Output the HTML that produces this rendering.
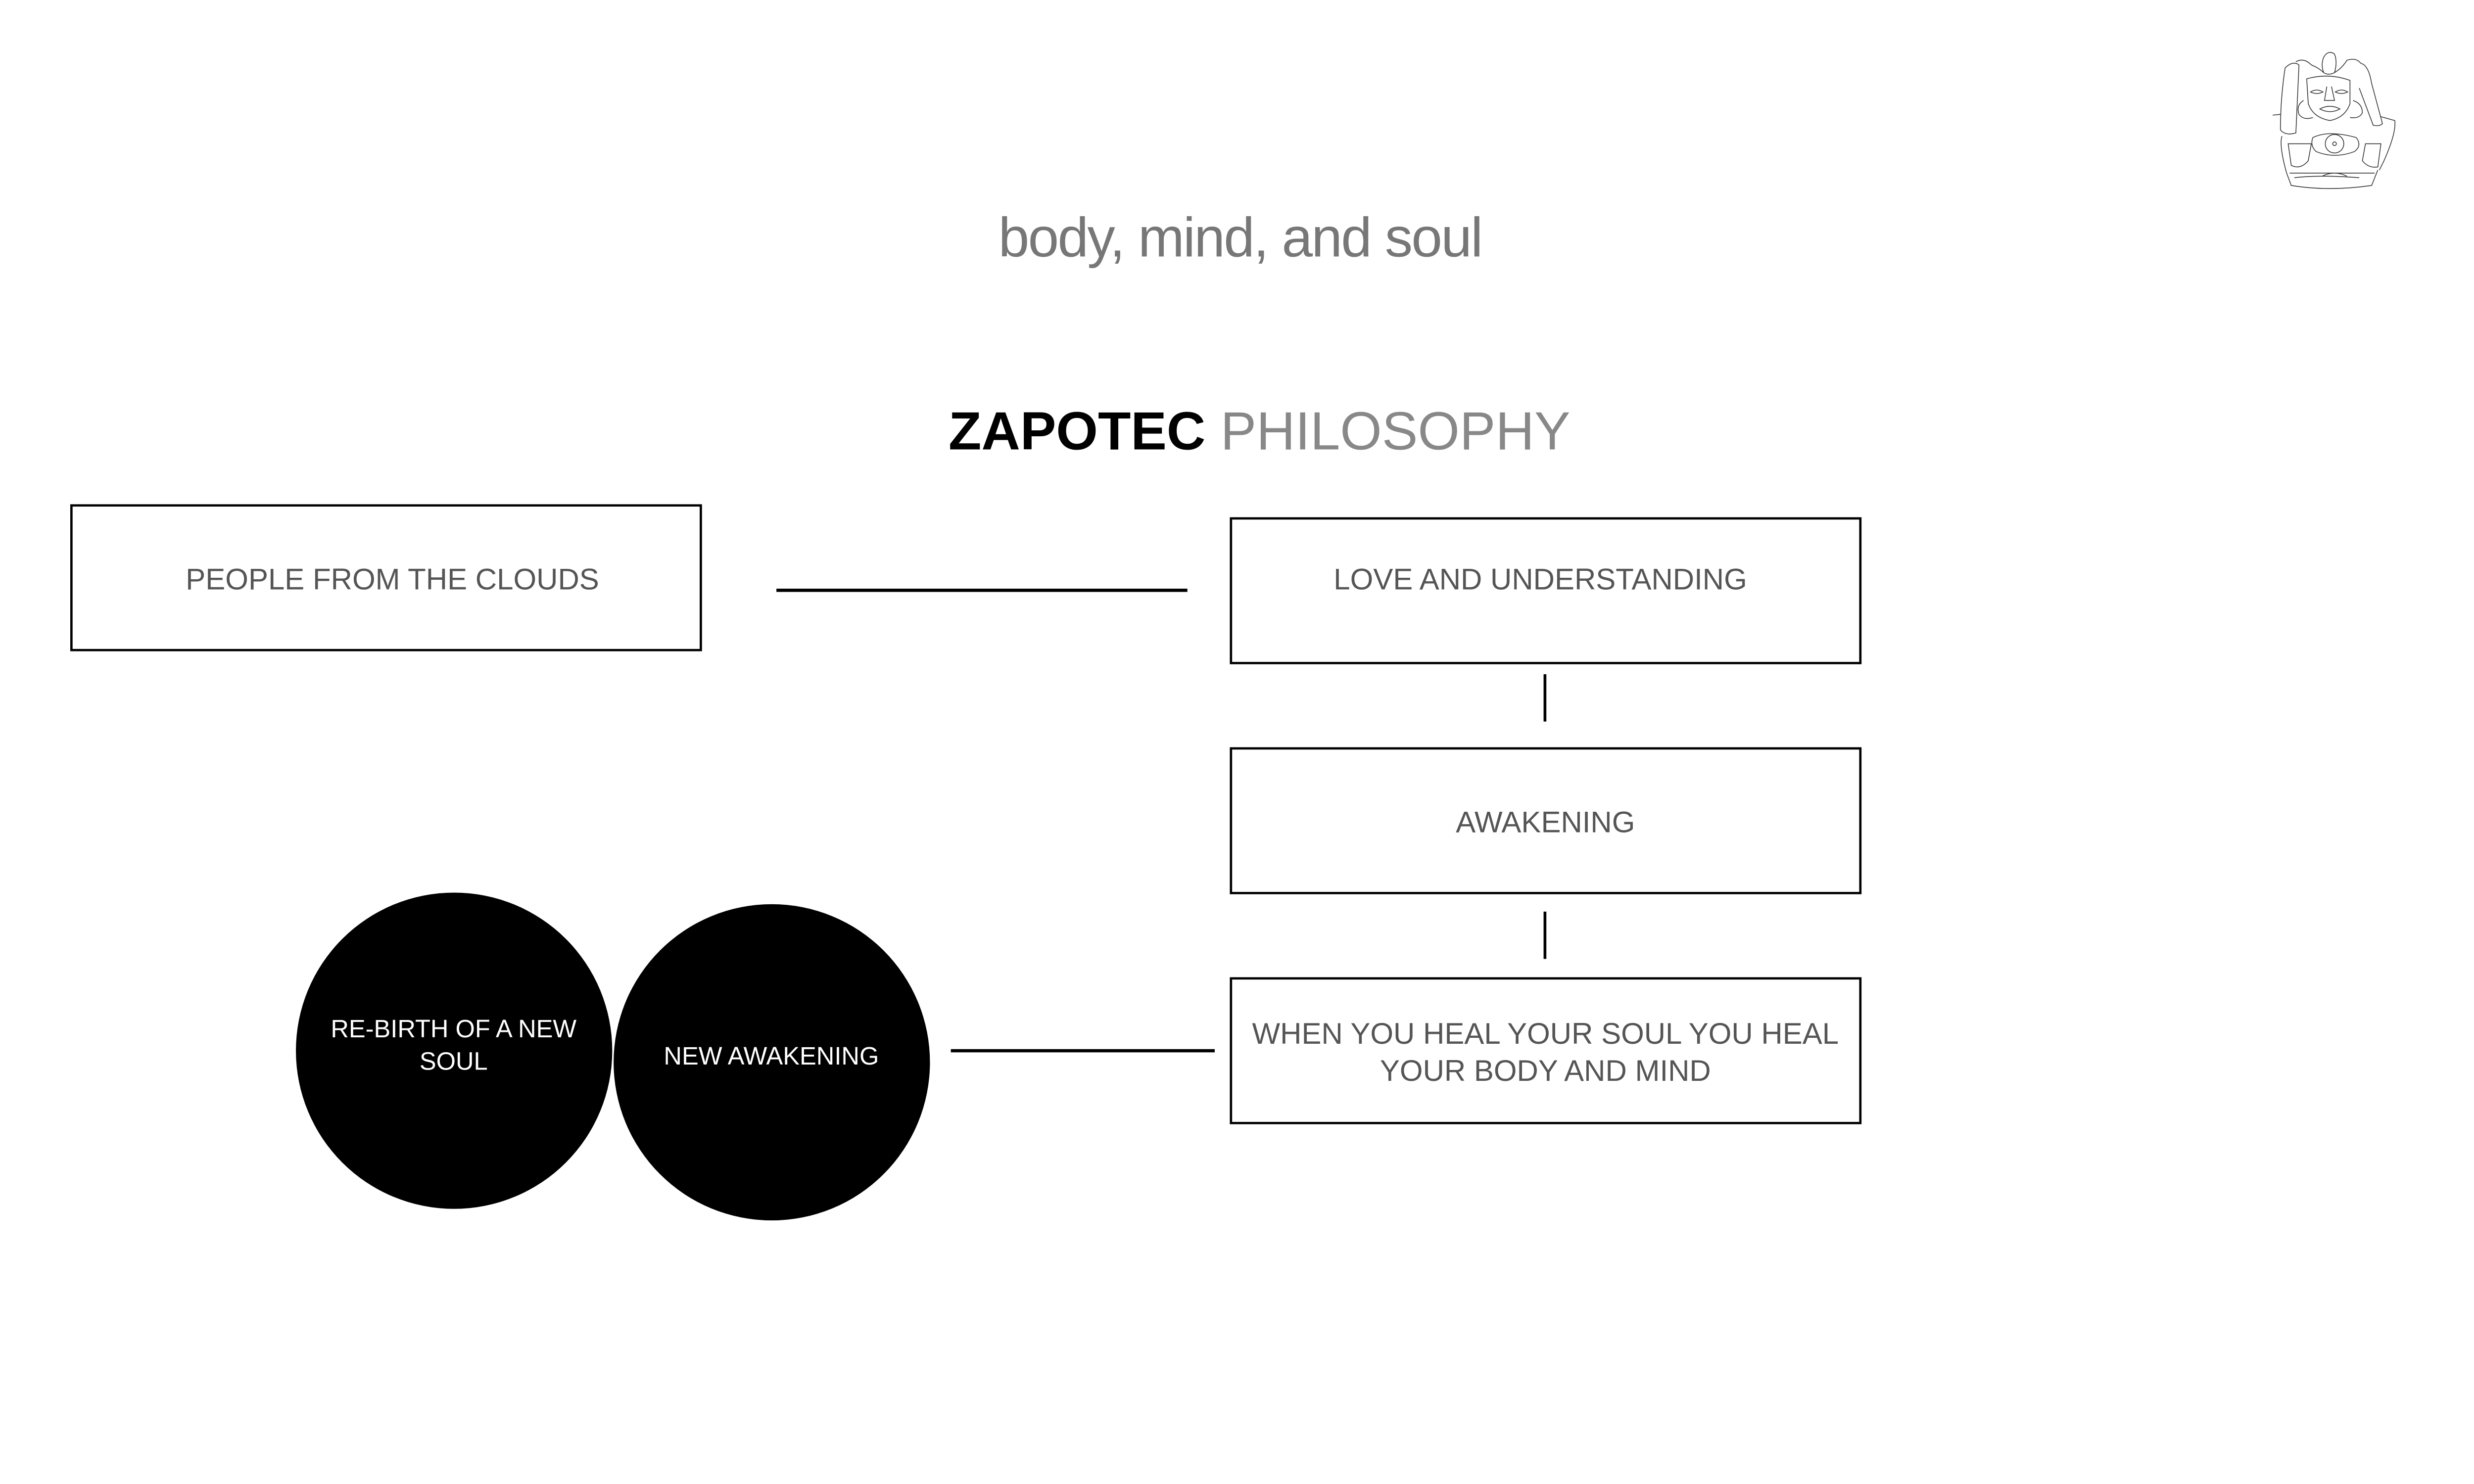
<!DOCTYPE html>
<html><head><meta charset="utf-8"><style>
html,body{margin:0;padding:0;background:#fff;overflow:hidden;}
svg{display:block;width:100vw;height:56.243vw;}
</style></head><body>
<svg viewBox="0 0 5334 3000" preserveAspectRatio="xMinYMin meet" xmlns="http://www.w3.org/2000/svg">
<rect width="5334" height="3000" fill="#fff"/>
<text x="2675" y="553" font-family="Liberation Sans, sans-serif" font-size="120" fill="#777" text-anchor="middle" textLength="1045">body, mind, and soul</text>
<text x="2045" y="969" font-family="Liberation Sans, sans-serif" font-size="116" fill="#000" font-weight="bold">ZAPOTEC <tspan font-weight="normal" fill="#888">PHILOSOPHY</tspan></text>

<g fill="none" stroke="#000" stroke-width="5">
<rect x="154" y="1090" width="1357" height="312"/>
<rect x="2654" y="1118" width="1357" height="312"/>
<rect x="2654" y="1614" width="1357" height="312"/>
<rect x="2654" y="2110" width="1357" height="312"/>
</g>
<line x1="1674" y1="1273" x2="2560" y2="1273" stroke="#000" stroke-width="7"/>
<line x1="2050" y1="2266" x2="2619" y2="2266" stroke="#000" stroke-width="7"/>
<line x1="3331" y1="1454" x2="3331" y2="1556" stroke="#000" stroke-width="6"/>
<line x1="3331" y1="1966" x2="3331" y2="2068" stroke="#000" stroke-width="6"/>

<circle cx="979" cy="2266" r="341" fill="#000"/>
<circle cx="1664" cy="2291" r="341" fill="#000"/>

<g font-family="Liberation Sans, sans-serif" font-size="64" fill="#555" text-anchor="middle">
<text x="846" y="1271">PEOPLE FROM THE CLOUDS</text>
<text x="3321" y="1271">LOVE AND UNDERSTANDING</text>
<text x="3332" y="1795">AWAKENING</text>
<text x="3332" y="2251">WHEN YOU HEAL YOUR SOUL YOU HEAL</text>
<text x="3332" y="2331">YOUR BODY AND MIND</text>
</g>
<g font-family="Liberation Sans, sans-serif" font-size="54" fill="#fff" text-anchor="middle">
<text x="978" y="2237">RE-BIRTH OF A NEW</text>
<text x="978" y="2307">SOUL</text>
<text x="1663" y="2296">NEW AWAKENING</text>
</g>

<g transform="translate(4900,80) scale(0.3333)" fill="none" stroke="#333" stroke-width="5">
<path d="M330 130 Q360 80 400 110 Q420 160 400 230 Q360 250 330 230 Q310 180 330 130Z"/>
<path d="M150 160 Q200 130 250 180 Q300 200 330 230 M400 230 Q450 200 480 150 Q540 130 570 170"/>
<path d="M80 200 Q130 150 170 180 L150 620 Q80 640 50 600 Q50 400 80 200Z"/>
<path d="M570 170 Q620 180 640 300 L710 560 Q690 580 650 570 L560 330"/>
<path d="M220 270 Q360 230 500 280 L500 430 Q470 520 370 540 Q260 520 230 430 Z"/>
<path d="M245 355 Q285 330 325 355 Q285 375 245 355Z M405 355 Q445 330 485 355 Q445 375 405 355Z"/>
<path d="M350 320 L335 410 L400 410 L380 320"/>
<path d="M305 465 Q370 430 435 465 Q370 500 305 465Z"/>
<path d="M200 410 Q150 440 170 500 Q200 540 260 520 M520 410 Q580 430 580 490 Q560 530 500 520"/>
<path d="M0 505 L50 500 M700 515 L790 540 Q800 620 720 800 L690 860"/>
<path d="M60 640 Q40 700 90 880 L120 960 Q360 1000 640 960 L680 860"/>
<path d="M260 650 Q360 600 540 650 Q580 700 530 740 Q400 790 280 740 Q240 700 260 650Z"/>
<circle cx="400" cy="690" r="60"/><circle cx="400" cy="690" r="12"/>
<path d="M100 690 L250 690 L230 800 Q180 860 120 830 Z M600 690 L700 690 L680 840 Q620 850 580 800Z"/>
<path d="M110 880 L660 880 M140 910 Q300 890 560 910 M320 900 Q400 860 480 900"/>
</g>
</svg>
</body></html>
